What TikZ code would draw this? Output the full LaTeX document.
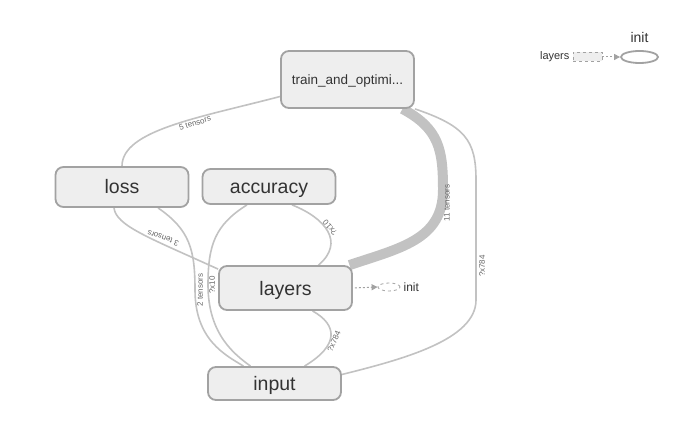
\documentclass[tikz,border=0pt]{standalone}
\usepackage{fontspec}
\setmainfont{Liberation Sans}
\usepackage{tikz}
\usetikzlibrary{arrows.meta,positioning,shapes.geometric,backgrounds}

\definecolor{opfill}{HTML}{EEEEEE}
\definecolor{opline}{HTML}{A2A2A2}
\definecolor{edgegray}{HTML}{C2C2C2}
\definecolor{txtgray}{HTML}{333333}
\definecolor{lblgray}{HTML}{666666}

\begin{document}
\begin{tikzpicture}[
  x=1pt, y=-1pt,
  opnode/.style={draw=opline, line width=1.8pt, fill=opfill, rounded corners=8pt, minimum width=133pt, inner sep=0pt, text height=14pt, text depth=0pt, text=txtgray, font=\fontsize{19.5}{22}\selectfont},
  dflow/.style={draw=edgegray, line width=1.6pt},
  elabel/.style={font=\fontsize{8}{9}\selectfont, text=lblgray, inner sep=0pt},
  smalltxt/.style={text=txtgray, inner sep=0pt},
  ctrl/.style={draw=opline, line width=1pt, dash pattern=on 2pt off 2pt, -{Triangle[length=6pt,width=6pt]}}
]
\useasboundingbox (0,0) rectangle (692,443);
% ops
\node[opnode, minimum height=57pt, text height=9.7pt, font=\fontsize{13.5}{16}\selectfont] (train) at (347.5,79.5) {train\_and\_optimi...};
\node[opnode, minimum height=40pt] (loss) at (122,187) {loss};
\node[opnode, minimum height=35pt] (accuracy) at (269,186.5) {accuracy};
\node[opnode, minimum height=44pt] (layers) at (285.5,288) {layers};
\node[opnode, minimum height=33pt] (input) at (274.5,383.5) {input};
% control dependency of layers
\node[draw=opline, dashed, line width=0.8pt, ellipse, minimum width=22pt, minimum height=8pt, inner sep=0pt] (layersinit) at (389,287) {};
\node[smalltxt, right=3pt of layersinit, font=\fontsize{12}{14}\selectfont] (layersinittxt) {init};
\draw[ctrl, shorten <=2pt] (layers.east) -- (layersinit.west);
% top right
\node[draw=opline, dashed, fill=opfill, line width=0.8pt, minimum width=29pt, minimum height=9pt, inner sep=0pt] (mlayers) at (587.5,57) {};
\node[smalltxt, left=3pt of mlayers, font=\fontsize{11}{13}\selectfont] (mlayerstxt) {layers};
\node[draw=opline, line width=1.8pt, ellipse, minimum width=37pt, minimum height=12pt, inner sep=0pt] (minit) at (639.5,57) {};
\node[smalltxt, above=7pt of minit, font=\fontsize{14}{16}\selectfont] (minittxt) {init};
\draw[ctrl] (mlayers) -- (minit);
% data flow
\begin{scope}[on background layer]
\draw[dflow] ([yshift=-17pt]train.west) .. controls +(-80,21) and +(0,-36) .. (loss.north);
\draw[dflow, line width=10pt] ([xshift=55pt]train.south) .. controls +(37,20) and +(0,-40) .. (443,190) .. controls +(0,50) and +(50,-17) .. ([xshift=64pt]layers.north);
\draw[dflow] (train.south east) .. controls +(50,17) and +(0,-40) .. (476,180) -- (476,300) .. controls +(0,40) and +(60,-15) .. ([yshift=9pt]input.east);
\draw[dflow] ([xshift=-8pt]loss.south) .. controls +(2,18) and +(-68,-31) .. ([yshift=-4pt]layers.north west);
\draw[dflow] ([xshift=36pt]loss.south) .. controls +(32,22) and +(0,-40) .. (195,290) .. controls +(0,50) and +(-18,-11) .. ([xshift=-31pt]input.north);
\draw[dflow] ([xshift=-22pt]accuracy.south) .. controls +(-32,20) and +(0,-40) .. (208,285) .. controls +(0,50) and +(-15,-11) .. ([xshift=-24pt]input.north);
\draw[dflow] ([xshift=23pt]accuracy.south) .. controls +(33,13) and +(27,-23) .. ([xshift=33pt]layers.north);
\draw[dflow] ([xshift=27pt]layers.south) .. controls +(25,14) and +(35,-21) .. ([xshift=30pt]input.north);
\end{scope}
% edge labels
\node[elabel, rotate=17] (l5t) at (195,123) {5 tensors};
\node[elabel, rotate=90] (l11t) at (447,203) {11 tensors};
\node[elabel, rotate=90] (lx784a) at (482,266) {?x784};
\node[elabel, rotate=160] (l3t) at (163,238) {3 tensors};
\node[elabel, rotate=90] (l2t) at (200,290) {2 tensors};
\node[elabel, rotate=90] (lx10a) at (212,285) {?x10};
\node[elabel, rotate=130] (lx10b) at (330,228) {?x10};
\node[elabel, rotate=66] (lx784b) at (334,341) {?x784};
\end{tikzpicture}
\end{document}
